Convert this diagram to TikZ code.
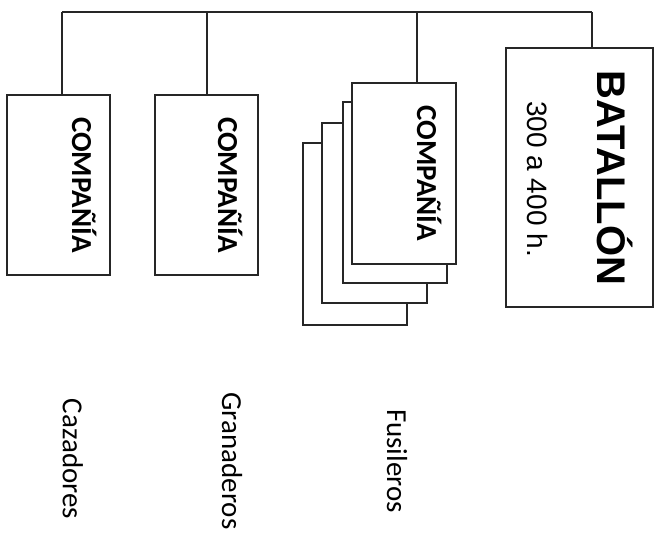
\documentclass[tikz,border=0pt]{standalone}
\usepackage{fontspec}
\setmainfont{Carlito}
\newfontfamily\arialfont{Liberation Sans}
\begin{document}
\begin{tikzpicture}[x=1pt,y=-1pt,
  box/.style={draw=black!85, line width=1.6pt, fill=white, inner sep=0pt},
  comptext/.style={rotate=-90, anchor=base, inner sep=0pt, font=\fontsize{29}{31}\selectfont\bfseries},
  labeltext/.style={rotate=-90, anchor=base, inner sep=0pt, font=\fontsize{29}{31}\selectfont},
  link/.style={draw=black!85, line width=1.6pt}]
\useasboundingbox (0,0) rectangle (657,533);
% boxes
\node[box, minimum width=103, minimum height=180] (c1) at (58.5,185) {};
\node[box, minimum width=103, minimum height=180] (c2) at (206.5,185) {};
\node[box, minimum width=104, minimum height=182] (s4) at (355,234) {};
\node[box, minimum width=105, minimum height=180] (s3) at (374.5,213) {};
\node[box, minimum width=104, minimum height=181] (s2) at (395,192.5) {};
\node[box, minimum width=104, minimum height=181] (c3) at (404,173.5) {};
\node[box, minimum width=147, minimum height=259] (bat) at (579.5,177.5) {};
% texts
\node[comptext] (t1) at (72,185) {COMPAÑÍA};
\node[comptext] (t2) at (218,185) {COMPAÑÍA};
\node[comptext] (t3) at (417,173.5) {COMPAÑÍA};
\node[rotate=-90, anchor=base, inner sep=0pt, font=\arialfont\fontsize{40}{42}\selectfont\bfseries] (bt) at (597,178) {BATALLÓN};
\node[rotate=-90, anchor=base, inner sep=0pt, font=\arialfont\fontsize{28}{30}\selectfont] (bn) at (527,179) {300 a 400 h.};
\node[labeltext] (l1) at (63,459) {Cazadores};
\node[labeltext] (l2) at (222,461) {Granaderos};
\node[labeltext] (l3) at (387,461) {Fusileros};
% connectors
\coordinate (k1) at (62,12);
\coordinate (k2) at (207,12);
\coordinate (k3) at (417,12);
\coordinate (k4) at (592,12);
\draw[link] (k1) -- (k4);
\draw[link] (k1) -- (k1 |- c1.north);
\draw[link] (k2) -- (k2 |- c2.north);
\draw[link] (k3) -- (k3 |- c3.north);
\draw[link] (k4) -- (k4 |- bat.north);
\end{tikzpicture}
\end{document}
